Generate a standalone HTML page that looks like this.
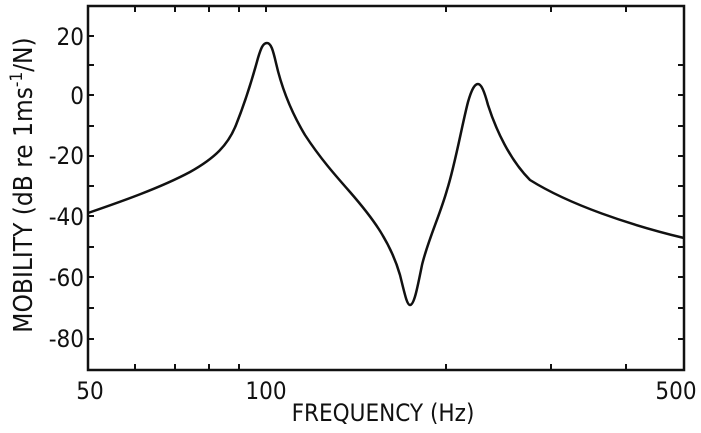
<!DOCTYPE html>
<html><head><style>
html,body{margin:0;padding:0;background:#fff;}
svg text{font-family:"DejaVu Sans Condensed","Liberation Sans Narrow","Liberation Sans",sans-serif;fill:#111;}
</style></head><body>
<svg width="701" height="428" viewBox="0 0 701 428" xmlns="http://www.w3.org/2000/svg">
<rect x="88" y="6" width="596" height="364" fill="none" stroke="#111" stroke-width="2.5"/>
<g stroke="#111" stroke-width="2">
<line x1="88" y1="36" x2="94" y2="36"/><line x1="88" y1="65" x2="94" y2="65"/><line x1="88" y1="95" x2="94" y2="95"/><line x1="88" y1="126" x2="94" y2="126"/><line x1="88" y1="156" x2="94" y2="156"/><line x1="88" y1="186" x2="94" y2="186"/><line x1="88" y1="216" x2="94" y2="216"/><line x1="88" y1="247" x2="94" y2="247"/><line x1="88" y1="277" x2="94" y2="277"/><line x1="88" y1="308" x2="94" y2="308"/><line x1="88" y1="339" x2="94" y2="339"/>
<line x1="678" y1="65" x2="684" y2="65"/><line x1="678" y1="95" x2="684" y2="95"/><line x1="678" y1="126" x2="684" y2="126"/><line x1="678" y1="156" x2="684" y2="156"/><line x1="678" y1="186" x2="684" y2="186"/><line x1="678" y1="216" x2="684" y2="216"/><line x1="678" y1="247" x2="684" y2="247"/><line x1="678" y1="277" x2="684" y2="277"/><line x1="678" y1="308" x2="684" y2="308"/><line x1="678" y1="339" x2="684" y2="339"/>
<line x1="135" y1="370" x2="135" y2="364"/><line x1="175" y1="370" x2="175" y2="364"/><line x1="209" y1="370" x2="209" y2="364"/><line x1="239" y1="370" x2="239" y2="364"/><line x1="446" y1="370" x2="446" y2="364"/><line x1="551" y1="370" x2="551" y2="364"/><line x1="626" y1="370" x2="626" y2="364"/>
<line x1="135" y1="6" x2="135" y2="12"/><line x1="175" y1="6" x2="175" y2="12"/><line x1="209" y1="6" x2="209" y2="12"/><line x1="239" y1="6" x2="239" y2="12"/><line x1="266" y1="6" x2="266" y2="12"/><line x1="446" y1="6" x2="446" y2="12"/><line x1="551" y1="6" x2="551" y2="12"/><line x1="626" y1="6" x2="626" y2="12"/>
</g>
<path d="M88,213 C120,202 160,188 190,172 C215,158 228,145 236,125 C246,100 252,80 258,58 C261,48 263,43 267,43 C271,43 273,50 276,63 C281,85 290,110 305,135 C320,158 335,175 350,192 C370,215 390,240 400,275 C405,295 407,305 410,305 C414,305 417,290 422,265 C428,240 440,215 447,190 C455,165 462,125 468,102 C472,88 475,84 478,84 C481,84 484,90 488,105 C496,130 510,160 530,180 C570,205 630,225 684,238" fill="none" stroke="#111" stroke-width="2.5"/>
<g font-size="24" text-anchor="end">
<text x="84" y="45">20</text><text x="84" y="104">0</text><text x="84" y="164">-20</text><text x="84" y="225">-40</text><text x="84" y="286">-60</text><text x="84" y="347">-80</text>
</g>
<g font-size="24" text-anchor="middle">
<text x="90" y="399">50</text><text x="266" y="399">100</text><text x="676" y="399">500</text>
<text x="383" y="421">FREQUENCY (Hz)</text>
</g>
<text font-size="26" text-anchor="middle" transform="translate(32,185) rotate(-90)">MOBILITY (dB re 1ms<tspan font-size="17" dy="-10">-1</tspan><tspan dy="10">/N)</tspan></text>
</svg>
</body></html>
